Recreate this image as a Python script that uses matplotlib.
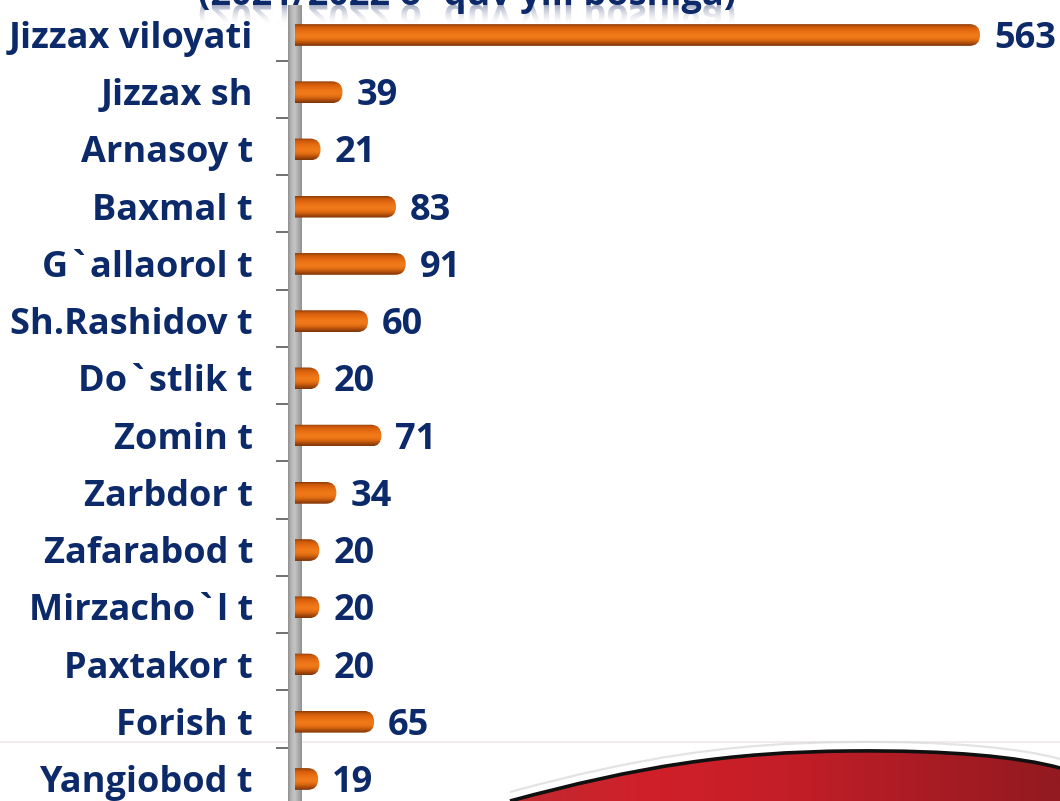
import numpy as np
import matplotlib
matplotlib.use("Agg")
import matplotlib.pyplot as plt
from matplotlib.patches import FancyBboxPatch, PathPatch
from matplotlib.path import Path
from matplotlib.textpath import TextPath
from matplotlib.font_manager import FontProperties
from matplotlib import transforms
from matplotlib.colors import to_rgb

categories = ["Jizzax viloyati", "Jizzax sh", "Arnasoy t", "Baxmal t", "G`allaorol t",
              "Sh.Rashidov t", "Do`stlik t", "Zomin t", "Zarbdor t", "Zafarabod t",
              "Mirzacho`l t", "Paxtakor t", "Forish t", "Yangiobod t"]
values = [563, 39, 21, 83, 91, 60, 20, 71, 34, 20, 20, 20, 65, 19]
title = "(2021/2022 o`quv yili boshiga)"

plt.rcParams["font.family"] = ["Open Sans", "DejaVu Sans"]
NAVY = "#0c2a6a"
FS = 26

W, H = 1060, 801
fig = plt.figure(figsize=(10.6, 8.01), dpi=100)
fig.patch.set_facecolor("white")

# background decoration axes in pixel coordinates
bg = fig.add_axes([0, 0, 1, 1])
bg.set_xlim(0, W)
bg.set_ylim(H, 0)
bg.axis("off")

def grad(colors, n=256, vertical=True):
    cols = np.array([to_rgb(c) for c in colors])
    t = np.linspace(0, 1, len(cols))
    s = np.linspace(0, 1, n)
    arr = np.stack([np.interp(s, t, cols[:, k]) for k in range(3)], axis=-1)
    if vertical:
        return arr[:, None, :]
    return arr[None, :, :]

# faint separator line
bg.plot([0, W], [742, 742], color="#efe8e8", lw=1.2, zorder=1)

# red swoosh
verts = [(510, 801), (640, 766), (730, 752), (850, 751),
         (950, 750), (1020, 757), (1060, 768), (1060, 801), (510, 801)]
codes = [Path.MOVETO, Path.CURVE4, Path.CURVE4, Path.CURVE4,
         Path.CURVE4, Path.CURVE4, Path.CURVE4, Path.LINETO, Path.CLOSEPOLY]
sw_path = Path(verts, codes)
sw_patch = PathPatch(sw_path, facecolor="none", edgecolor="none", transform=bg.transData)
bg.add_patch(sw_patch)
im = bg.imshow(grad(["#c02a30", "#d0202a", "#c41e28", "#aa1c24", "#921a20"], vertical=False),
               extent=(510, 1060, 801, 745), aspect="auto", zorder=2)
im.set_clip_path(sw_patch)
edge = Path(verts[:7], codes[:7])
bg.add_patch(PathPatch(edge, facecolor="none", edgecolor="#101010", lw=2.6, zorder=3,
                       transform=bg.transData))
hl = Path([(x, y - 9) for x, y in verts[:7]], codes[:7])
bg.add_patch(PathPatch(hl, facecolor="none", edgecolor="#d8d8d8", lw=1.6, alpha=0.7, zorder=3,
                       transform=bg.transData))

# title (cut off at top, as in the original) with reflection
bg.text(467, 5, title, ha="center", va="baseline", fontsize=FS, fontweight="bold",
        color=NAVY, zorder=4, clip_on=False)
fp = FontProperties(family="Open Sans", weight="bold")
tp = TextPath((0, 0), title, size=FS * 100 / 72, prop=fp)
ext = tp.get_extents()
tw = ext.width
tr = transforms.Affine2D().translate(467 - tw / 2 - ext.x0, 5)
refl = PathPatch(tr.transform_path(tp), facecolor="none", edgecolor="none",
                 transform=bg.transData)
bg.add_patch(refl)
rim = bg.imshow(np.dstack([grad(["#9aa3bd", "#c8ccd8", "#ffffff"])[:, :, :],
                           np.linspace(0.9, 0.0, 256)[:, None, None]]),
                extent=(100, 850, 26, 5), aspect="auto", zorder=3)
rim.set_clip_path(refl)

# gray axis wall
bg.imshow(grad(["#8e8e8e", "#b8b8b8", "#c4c4c6", "#aaaaaa", "#909090"], vertical=False),
          extent=(288, 302, H, 5), aspect="auto", zorder=5)

bg.set_xlim(0, W)
bg.set_ylim(H, 0)

# main data axes
px_per_unit = (980 - 295) / 563
ax = fig.add_axes([295 / W, 0, 1 - 295 / W, 1])
ax.patch.set_alpha(0)
ax.axis("off")
y_top = -35 / 57.23
y_bot = (H - 35) / 57.23
xmax = (W - 295) / px_per_unit

bar_h = 0.38
r_x = 10.5 / px_per_unit
asp = (bar_h / 2) / r_x * 0.99
bar_cols = ["#8a3a08", "#cc5a0c", "#e0660f", "#ea7214", "#f07a1a", "#ee7818",
            "#d8660f", "#a84a0c", "#7a3408"]
bar_img = grad(bar_cols)

blend = transforms.blended_transform_factory(bg.transData, ax.transData)

for i, (cat, v) in enumerate(zip(categories, values)):
    x0 = -15
    clip = FancyBboxPatch((x0, i - bar_h / 2), v - x0, bar_h,
                          boxstyle=f"round,pad=0,rounding_size={r_x}",
                          mutation_aspect=asp, transform=ax.transData,
                          facecolor="none", edgecolor="none")
    ax.add_patch(clip)
    bim = ax.imshow(bar_img, extent=(x0, v, i + bar_h / 2, i - bar_h / 2),
                    aspect="auto", zorder=3)
    bim.set_clip_path(clip)
    ax.annotate(str(v), xy=(v, i), xytext=(14, -13), textcoords="offset pixels",
                ha="left", va="baseline", fontsize=FS, fontweight="bold", color=NAVY,
                annotation_clip=False)
    ax.annotate(cat, xy=(253, i), xycoords=blend, xytext=(0, -13), textcoords="offset pixels",
                ha="right", va="baseline", fontsize=FS, fontweight="bold", color=NAVY,
                annotation_clip=False)

for i in range(len(values) - 1):
    ax.plot([277, 287], [i + 0.45, i + 0.45], transform=blend, color="#707070", lw=1.4,
            clip_on=False, zorder=2)

ax.set_xlim(0, xmax)
ax.set_ylim(y_bot, y_top)

fig.savefig("out.png", dpi=100, facecolor="white")
